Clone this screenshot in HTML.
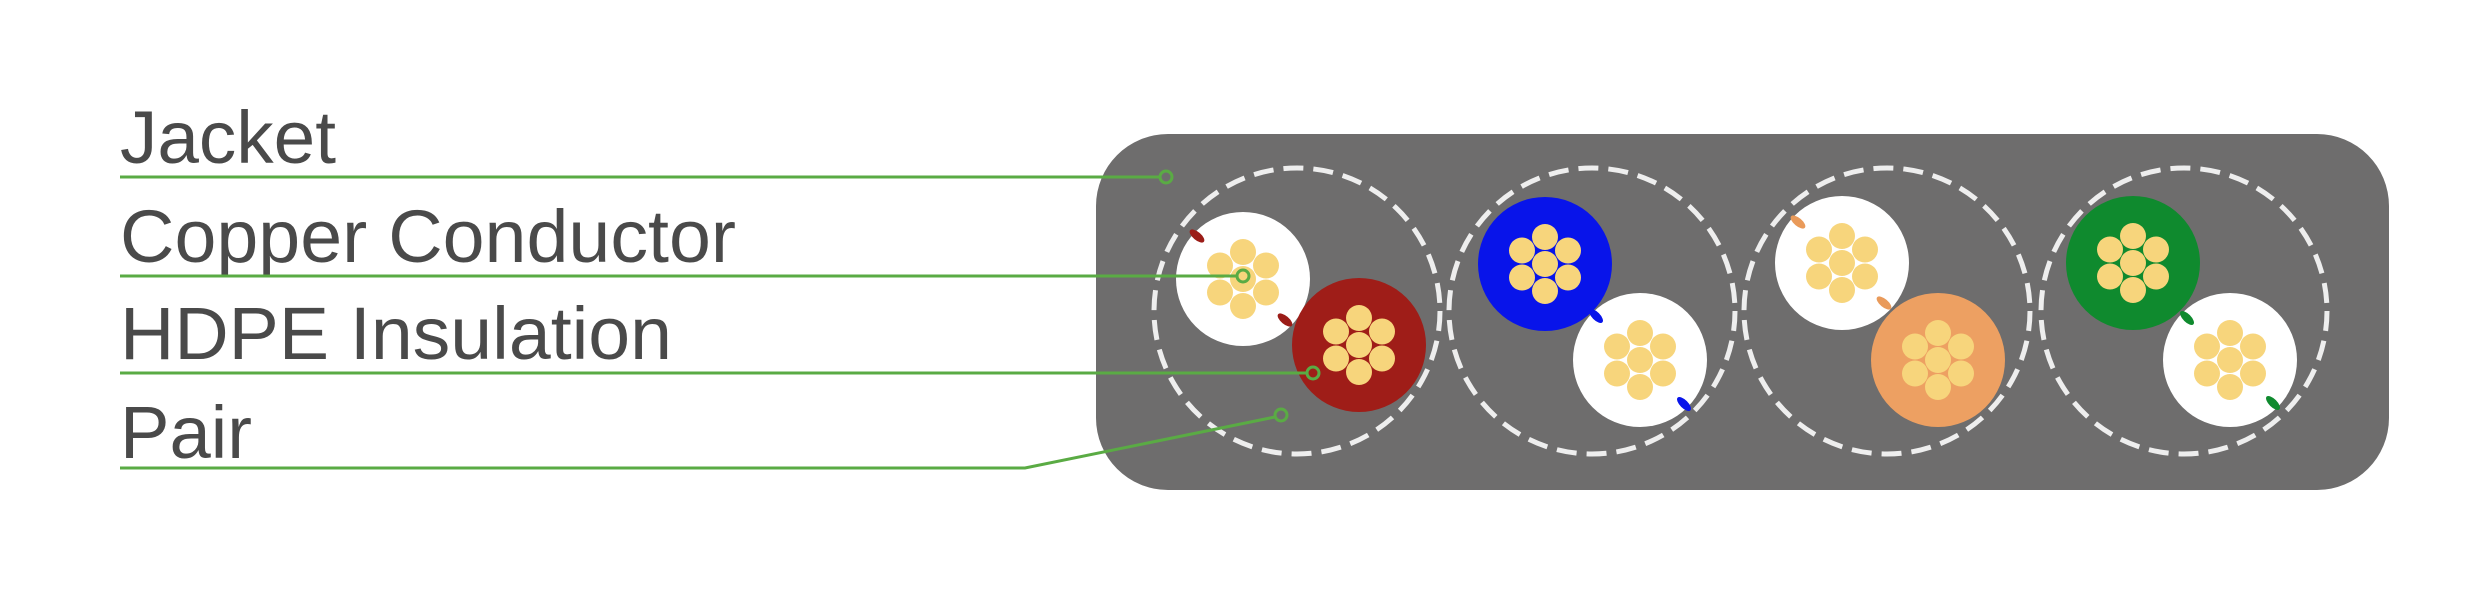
<!DOCTYPE html>
<html><head><meta charset="utf-8"><style>
html,body{margin:0;padding:0;background:#fff}
svg{display:block}
text{font-family:"Liberation Sans",sans-serif;fill:#4a4a4a;font-size:74px}
</style></head><body>
<svg width="2480" height="610" viewBox="0 0 2480 610" xmlns="http://www.w3.org/2000/svg">
<defs>
<g id="s">
<circle cx="0" cy="0" r="13" fill="#f7d57c"/>
<circle cx="0" cy="-27" r="13" fill="#f7d57c"/>
<circle cx="0" cy="27" r="13" fill="#f7d57c"/>
<circle cx="-23" cy="-13.5" r="13" fill="#f7d57c"/>
<circle cx="23" cy="-13.5" r="13" fill="#f7d57c"/>
<circle cx="-23" cy="13.5" r="13" fill="#f7d57c"/>
<circle cx="23" cy="13.5" r="13" fill="#f7d57c"/>
</g>
</defs>
<text x="120" y="163" textLength="216" lengthAdjust="spacingAndGlyphs">Jacket</text>
<text x="120" y="262" textLength="616" lengthAdjust="spacingAndGlyphs">Copper Conductor</text>
<text x="120" y="359" textLength="552" lengthAdjust="spacingAndGlyphs">HDPE Insulation</text>
<text x="120" y="458" textLength="132" lengthAdjust="spacingAndGlyphs">Pair</text>

<rect x="1096" y="134" width="1293" height="356" rx="72" fill="#6e6d6d"/>

<g fill="none" stroke="#eeeeee" stroke-width="5" stroke-dasharray="20 10">
<circle cx="1297" cy="311" r="143"/>
<circle cx="1592" cy="311" r="143"/>
<circle cx="1887" cy="311" r="143"/>
<circle cx="2184" cy="311" r="143"/>
</g>

<!-- pair 1 -->
<circle cx="1243" cy="279" r="67" fill="#fff"/>
<ellipse cx="1197" cy="236" rx="9" ry="4" transform="rotate(40 1197 236)" fill="#9b1c17"/>
<ellipse cx="1285" cy="320" rx="9" ry="4" transform="rotate(40 1285 320)" fill="#9b1c17"/>
<use href="#s" x="1243" y="279"/>
<circle cx="1359" cy="345" r="67" fill="#9f1d18"/>
<use href="#s" x="1359" y="345"/>
<!-- pair 2 -->
<circle cx="1545" cy="264" r="67" fill="#0814ea"/>
<use href="#s" x="1545" y="264"/>
<circle cx="1640" cy="360" r="67" fill="#fff"/>
<ellipse cx="1596" cy="316" rx="9" ry="4" transform="rotate(45 1596 316)" fill="#0814ea"/>
<ellipse cx="1684" cy="404" rx="9" ry="4" transform="rotate(45 1684 404)" fill="#0814ea"/>
<use href="#s" x="1640" y="360"/>
<!-- pair 3 -->
<circle cx="1842" cy="263" r="67" fill="#fff"/>
<ellipse cx="1798" cy="222" rx="9" ry="4" transform="rotate(40 1798 222)" fill="#e99a5a"/>
<ellipse cx="1884" cy="303" rx="9" ry="4" transform="rotate(40 1884 303)" fill="#e99a5a"/>
<use href="#s" x="1842" y="263"/>
<circle cx="1938" cy="360" r="67" fill="#eda062"/>
<use href="#s" x="1938" y="360"/>
<!-- pair 4 -->
<circle cx="2133" cy="263" r="67" fill="#0f8a2e"/>
<use href="#s" x="2133" y="263"/>
<circle cx="2230" cy="360" r="67" fill="#fff"/>
<ellipse cx="2187" cy="318" rx="9" ry="4" transform="rotate(45 2187 318)" fill="#0f8a2e"/>
<ellipse cx="2273" cy="403" rx="9" ry="4" transform="rotate(45 2273 403)" fill="#0f8a2e"/>
<use href="#s" x="2230" y="360"/>

<!-- leaders -->
<g stroke="#5aab44" stroke-width="3" fill="none">
<polyline points="120,177 1160,177"/>
<circle cx="1166" cy="177" r="6"/>
<polyline points="120,276 1237,276"/>
<circle cx="1243" cy="276" r="6"/>
<polyline points="120,373 1307,373"/>
<circle cx="1313" cy="373" r="6"/>
<polyline points="120,468 1025,468 1275,417"/>
<circle cx="1281" cy="415" r="6"/>
</g>
</svg>
</body></html>
